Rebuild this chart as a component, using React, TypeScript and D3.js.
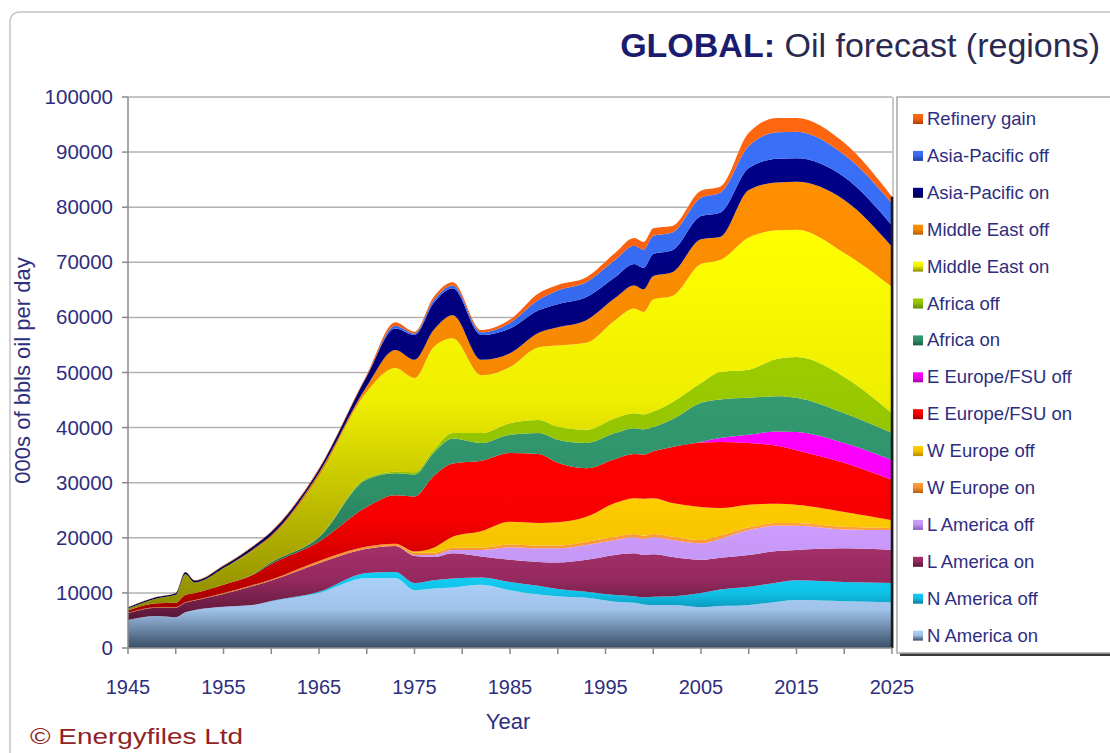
import React from "react";
import * as d3 from "d3";

// ---------- DATA (000s bbl/day) ----------
const years = [1945, 1948, 1950, 1951, 1952, 1955, 1958, 1960, 1965, 1970, 1973, 1975, 1977, 1979, 1982, 1985, 1988, 1990, 1993, 1996, 1998, 1999, 2000, 2002, 2005, 2007, 2010, 2013, 2015, 2020, 2025];

const nAmericaOn = [5100, 5800, 5600, 6500, 6900, 7500, 7800, 8500, 10000, 12700, 12700, 10500, 10800, 11000, 11500, 10500, 9700, 9400, 9100, 8400, 8200, 7900, 7800, 7800, 7400, 7600, 7800, 8400, 8700, 8500, 8300];
const nAmericaOff = [0, 0, 0, 0, 0, 0, 0, 50, 200, 900, 1100, 1300, 1500, 1600, 1300, 1500, 1600, 1300, 1100, 1200, 1200, 1300, 1500, 1600, 2600, 3000, 3300, 3500, 3600, 3500, 3500];
const lAmericaOn = [1200, 1500, 1700, 1700, 1700, 2300, 3400, 3700, 5200, 4400, 4700, 4900, 4200, 4600, 3800, 4000, 4300, 4800, 5800, 7300, 7800, 7700, 7700, 7100, 6000, 5800, 5800, 5700, 5500, 6100, 6000];
const lAmericaOff = [0, 0, 0, 0, 0, 0, 0, 0, 0, 0, 0, 200, 400, 600, 1200, 2300, 2500, 2600, 2700, 2700, 2900, 2900, 3100, 3100, 3000, 3400, 4500, 4600, 4400, 3400, 3600];
const wEuropeOn = [100, 100, 100, 100, 100, 200, 200, 200, 400, 400, 400, 400, 400, 400, 400, 500, 500, 500, 600, 600, 600, 600, 600, 600, 600, 600, 500, 500, 500, 500, 400];
const wEuropeOff = [0, 0, 0, 0, 0, 0, 0, 0, 0, 0, 0, 200, 900, 2000, 3000, 4100, 4100, 4200, 4500, 6100, 6500, 6700, 6500, 6100, 6000, 5000, 4100, 3500, 3300, 2700, 1400];
const eEuropeOn = [400, 700, 800, 1300, 1300, 1500, 1800, 2800, 3500, 7200, 8800, 10000, 13000, 13300, 12800, 12500, 12500, 10800, 8800, 8000, 8000, 8000, 8500, 10200, 11700, 12000, 11200, 10500, 9900, 8900, 7300];
const eEuropeOff = [0, 0, 0, 0, 0, 0, 0, 0, 0, 0, 0, 0, 0, 0, 0, 0, 0, 0, 0, 0, 0, 0, 0, 0, 100, 700, 1500, 2600, 3300, 3600, 3600];
const africaOn = [0, 0, 0, 0, 0, 0, 100, 300, 800, 5000, 4000, 4000, 4200, 4500, 3200, 3300, 3800, 4200, 4600, 4700, 4700, 4600, 4400, 5000, 7100, 7000, 6700, 6400, 6200, 5400, 4900];
const africaOff = [0, 0, 0, 0, 0, 0, 0, 0, 100, 300, 300, 400, 500, 1000, 1800, 2100, 2400, 2400, 2400, 2700, 2700, 2700, 2800, 3100, 3600, 5000, 5100, 6800, 7400, 6600, 3600];
const mEastOn = [350, 900, 1450, 3800, 1900, 3000, 4300, 4600, 11000, 15600, 18800, 17100, 18700, 17200, 10500, 10200, 13200, 14700, 15800, 17800, 19000, 18600, 20400, 19300, 21600, 20300, 24000, 23300, 23100, 22500, 22900];
const mEastOff = [0, 0, 0, 0, 0, 0, 200, 300, 600, 1000, 3300, 3300, 3100, 4200, 2800, 2500, 2600, 3300, 4100, 4000, 4200, 4100, 4200, 4300, 4500, 4200, 8600, 8700, 8700, 9600, 7300];
const asiaPacOn = [200, 250, 300, 350, 350, 400, 500, 600, 600, 1800, 3900, 4500, 4900, 4900, 4500, 4500, 4100, 4200, 4200, 3800, 3900, 3900, 4000, 4000, 4200, 4400, 4000, 4300, 4300, 4200, 3900];
const asiaPacOff = [0, 0, 0, 0, 0, 0, 0, 0, 0, 0, 500, 300, 500, 500, 500, 1000, 1900, 2500, 2700, 3100, 3300, 3300, 3300, 3200, 3300, 3600, 4000, 4800, 4800, 4000, 4000];
const refineryGain = [50, 50, 50, 50, 50, 100, 100, 150, 200, 300, 600, 300, 600, 600, 400, 600, 1200, 1000, 900, 1300, 1400, 1400, 1400, 1200, 1300, 1100, 2400, 2600, 2500, 2200, 1200];

// bottom -> top stacking order
const seriesNames = [
  "N America on", "N America off", "L America on", "L America off",
  "W Europe on", "W Europe off", "E Europe/FSU on", "E Europe/FSU off",
  "Africa on", "Africa off", "Middle East on", "Middle East off",
  "Asia-Pacific on", "Asia-Pacific off", "Refinery gain",
];
const seriesValues = [
  nAmericaOn, nAmericaOff, lAmericaOn, lAmericaOff, wEuropeOn, wEuropeOff,
  eEuropeOn, eEuropeOff, africaOn, africaOff, mEastOn, mEastOff,
  asiaPacOn, asiaPacOff, refineryGain,
];

const yTicks = [0, 10000, 20000, 30000, 40000, 50000, 60000, 70000, 80000, 90000, 100000];
const xLabelYears = [1945, 1955, 1965, 1975, 1985, 1995, 2005, 2015, 2025];

// ---------- STYLE ----------
const gradients: Record<string, string[]> = {
  "N America on": ["#abd0f8", "#a0c2ea", "#3a4e66"],
  "N America off": ["#12cff5", "#10c0e6", "#087a9c"],
  "L America on": ["#a3306a", "#95295f", "#561634"],
  "L America off": ["#cc9cff", "#c496f4", "#8a5cbc"],
  "W Europe on": ["#ffa040", "#f59030", "#b85c10"],
  "W Europe off": ["#ffcc00", "#f5c200", "#b88a00"],
  "E Europe/FSU on": ["#ff0000", "#f80000", "#a00000"],
  "E Europe/FSU off": ["#ff00ff", "#f500f5", "#a800a8"],
  "Africa on": ["#349a72", "#2e9068", "#1c5e44"],
  "Africa off": ["#9ccc00", "#92c200", "#628a00"],
  "Middle East on": ["#ffff00", "#eeee00", "#8c8a00"],
  "Middle East off": ["#ff9000", "#f58800", "#b45e00"],
  "Asia-Pacific on": ["#000088", "#00007c", "#000048"],
  "Asia-Pacific off": ["#3a70f8", "#3468ee", "#1e3e9c"],
  "Refinery gain": ["#ff6610", "#f56010", "#b03c00"],
};

const FONT = "'Liberation Sans', Arial, Helvetica, sans-serif";
const TXT = "#2e2e7e";

const W = 1110;
const H = 753;
const PL = 128, PR = 892, PT = 97, PB = 648;

export default function App() {
  const x = d3.scaleLinear().domain([1945, 2025]).range([PL, PR]);
  const y = d3.scaleLinear().domain([0, 100000]).range([PB, PT]);

  const table = years.map((yr, i) => {
    const row: any = { year: yr };
    seriesNames.forEach((k, j) => (row[k] = seriesValues[j][i]));
    return row;
  });
  const stacked = d3.stack<any>().keys(seriesNames)(table);
  const area = d3
    .area<any>()
    .x((d) => x(d.data.year))
    .y0((d) => y(d[0]))
    .y1((d) => y(d[1]))
    .curve(d3.curveMonotoneX);

  const lastTotal = stacked[stacked.length - 1][years.length - 1][1];
  const minorTicks = d3.range(1945, 2026, 5);
  const legendOrder = [...seriesNames].reverse();
  const gid = (name: string) => "g" + seriesNames.indexOf(name);

  return (
    <svg
      width={W}
      height={H}
      style={{ position: "absolute", left: 0, top: 0, background: "#fff" }}
      fontFamily={FONT}
    >
      <defs>
        {seriesNames.map((name, i) => (
          <linearGradient key={name} id={"g" + i} x1="0" y1="0" x2="0" y2="1">
            <stop offset="0" stopColor={gradients[name][0]} />
            <stop offset="0.45" stopColor={gradients[name][1]} />
            <stop offset="1" stopColor={gradients[name][2]} />
          </linearGradient>
        ))}
      </defs>
      <rect x={0} y={0} width={W} height={H} fill="#fff" />
      {/* outer frame */}
      <rect x={10} y={12} width={W + 20} height={H + 20} rx={9} fill="none" stroke="#c4c4c4" strokeWidth={1.5} />

      {/* title */}
      <text x={1100} y={57} textAnchor="end" fontSize={34}>
        <tspan fontWeight="bold" fill="#1c1c6e">GLOBAL:</tspan>
        <tspan fill="#2a2a50"> Oil forecast (regions)</tspan>
      </text>

      {/* gridlines */}
      {yTicks.filter((t) => t > 0).map((t) => (
        <line key={t} x1={PL} x2={PR} y1={y(t)} y2={y(t)} stroke="#b2b2b2" strokeWidth={1.5} />
      ))}
      <line x1={PR + 1} x2={PR + 1} y1={PT} y2={PB} stroke="#b8b8b8" strokeWidth={1.5} />

      {/* areas */}
      {stacked.map((s, i) => (
        <path key={s.key} d={area(s) || ""} fill={`url(#g${i})`} />
      ))}
      <line x1={PR} x2={PR} y1={y(lastTotal)} y2={PB} stroke="#1a1a1a" strokeWidth={2.5} />

      {/* axes */}
      <line x1={PL} x2={PL} y1={PT} y2={PB} stroke="#8a8a8a" strokeWidth={1.5} />
      <line x1={PL} x2={PR} y1={PB} y2={PB} stroke="#8a8a8a" strokeWidth={1.5} />
      {yTicks.map((t) => (
        <g key={t}>
          <line x1={PL - 6} x2={PL} y1={y(t)} y2={y(t)} stroke="#8a8a8a" strokeWidth={1.5} />
          <text x={113} y={y(t) + 7} textAnchor="end" fontSize={20.5} fill={TXT}>
            {t}
          </text>
        </g>
      ))}
      {minorTicks.map((yr) => (
        <line key={yr} x1={x(yr)} x2={x(yr)} y1={PB} y2={PB + 6} stroke="#8a8a8a" strokeWidth={1.5} />
      ))}
      {xLabelYears.map((yr) => (
        <text key={yr} x={x(yr)} y={694} textAnchor="middle" fontSize={20} fill={TXT}>
          {yr}
        </text>
      ))}
      <text x={508} y={729} textAnchor="middle" fontSize={22} fill={TXT}>
        Year
      </text>
      <text
        transform={`translate(30,${(PT + PB) / 2 - 2}) rotate(-90)`}
        textAnchor="middle"
        fontSize={22}
        fill={TXT}
      >
        000s of bbls oil per day
      </text>

      {/* footer */}
      <text x={30} y={744} fontSize={22} fill="#8e2424" textLength={213} lengthAdjust="spacingAndGlyphs">
        © Energyfiles Ltd
      </text>

      {/* legend */}
      <rect x={900} y={100} width={240} height={556} fill="#3a3a3a" />
      <rect x={897} y={97} width={240} height={556} fill="#fff" stroke="#a8a8a8" strokeWidth={1.5} />
      {legendOrder.map((name, i) => {
        const cy = 119 + i * 36.9;
        return (
          <g key={name}>
            <rect x={913} y={cy - 5} width={10} height={10} fill={`url(#${gid(name)})`} />
            <text x={927} y={cy + 6} fontSize={18.5} fill={TXT}>
              {name}
            </text>
          </g>
        );
      })}
    </svg>
  );
}
